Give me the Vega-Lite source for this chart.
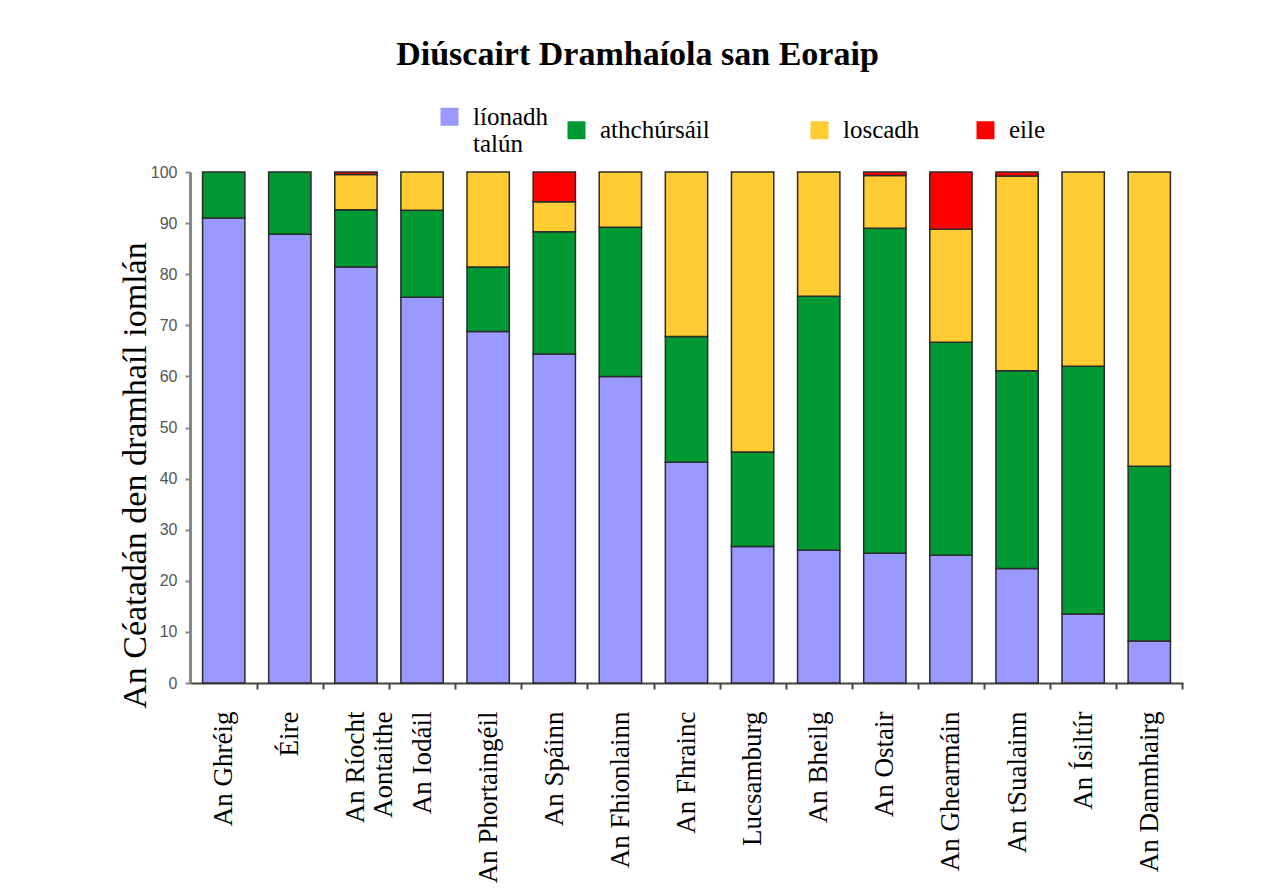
{
  "$schema": "https://vega.github.io/schema/vega-lite/v6.json",
  "autosize": {"type": "none"},
  "padding": {"left": 190, "top": 172, "right": 91, "bottom": 207},
  "width": 993,
  "height": 511,
  "background": "white",
  "title": {
    "text": "Diúscairt Dramhaíola san Eoraip",
    "font": "Liberation Serif",
    "fontSize": 34,
    "fontWeight": "bold",
    "color": "black",
    "anchor": "middle",
    "frame": "group",
    "dx": -49,
    "offset": 32
  },
  "data": {
    "values": [
      {"tir": "An Ghréig", "cat": "líonadh talún", "ord": 1, "v": 91.0},
      {"tir": "An Ghréig", "cat": "athchúrsáil", "ord": 2, "v": 9.0},
      {"tir": "Éire", "cat": "líonadh talún", "ord": 1, "v": 87.8},
      {"tir": "Éire", "cat": "athchúrsáil", "ord": 2, "v": 12.2},
      {"tir": "An Ríocht\nAontaithe", "cat": "líonadh talún", "ord": 1, "v": 81.4},
      {"tir": "An Ríocht\nAontaithe", "cat": "athchúrsáil", "ord": 2, "v": 11.2},
      {"tir": "An Ríocht\nAontaithe", "cat": "loscadh", "ord": 3, "v": 6.9},
      {"tir": "An Ríocht\nAontaithe", "cat": "eile", "ord": 4, "v": 0.5},
      {"tir": "An Iodáil", "cat": "líonadh talún", "ord": 1, "v": 75.5},
      {"tir": "An Iodáil", "cat": "athchúrsáil", "ord": 2, "v": 17.0},
      {"tir": "An Iodáil", "cat": "loscadh", "ord": 3, "v": 7.5},
      {"tir": "An Phortaingéil", "cat": "líonadh talún", "ord": 1, "v": 68.8},
      {"tir": "An Phortaingéil", "cat": "athchúrsáil", "ord": 2, "v": 12.6},
      {"tir": "An Phortaingéil", "cat": "loscadh", "ord": 3, "v": 18.6},
      {"tir": "An Spáinn", "cat": "líonadh talún", "ord": 1, "v": 64.4},
      {"tir": "An Spáinn", "cat": "athchúrsáil", "ord": 2, "v": 23.9},
      {"tir": "An Spáinn", "cat": "loscadh", "ord": 3, "v": 5.9},
      {"tir": "An Spáinn", "cat": "eile", "ord": 4, "v": 5.8},
      {"tir": "An Fhionlainn", "cat": "líonadh talún", "ord": 1, "v": 60.0},
      {"tir": "An Fhionlainn", "cat": "athchúrsáil", "ord": 2, "v": 29.2},
      {"tir": "An Fhionlainn", "cat": "loscadh", "ord": 3, "v": 10.8},
      {"tir": "An Fhrainc", "cat": "líonadh talún", "ord": 1, "v": 43.2},
      {"tir": "An Fhrainc", "cat": "athchúrsáil", "ord": 2, "v": 24.6},
      {"tir": "An Fhrainc", "cat": "loscadh", "ord": 3, "v": 32.2},
      {"tir": "Lucsamburg", "cat": "líonadh talún", "ord": 1, "v": 26.7},
      {"tir": "Lucsamburg", "cat": "athchúrsáil", "ord": 2, "v": 18.5},
      {"tir": "Lucsamburg", "cat": "loscadh", "ord": 3, "v": 54.8},
      {"tir": "An Bheilg", "cat": "líonadh talún", "ord": 1, "v": 26.0},
      {"tir": "An Bheilg", "cat": "athchúrsáil", "ord": 2, "v": 49.7},
      {"tir": "An Bheilg", "cat": "loscadh", "ord": 3, "v": 24.3},
      {"tir": "An Ostair", "cat": "líonadh talún", "ord": 1, "v": 25.4},
      {"tir": "An Ostair", "cat": "athchúrsáil", "ord": 2, "v": 63.6},
      {"tir": "An Ostair", "cat": "loscadh", "ord": 3, "v": 10.3},
      {"tir": "An Ostair", "cat": "eile", "ord": 4, "v": 0.7},
      {"tir": "An Ghearmáin", "cat": "líonadh talún", "ord": 1, "v": 25.0},
      {"tir": "An Ghearmáin", "cat": "athchúrsáil", "ord": 2, "v": 41.7},
      {"tir": "An Ghearmáin", "cat": "loscadh", "ord": 3, "v": 22.1},
      {"tir": "An Ghearmáin", "cat": "eile", "ord": 4, "v": 11.2},
      {"tir": "An tSualainn", "cat": "líonadh talún", "ord": 1, "v": 22.4},
      {"tir": "An tSualainn", "cat": "athchúrsáil", "ord": 2, "v": 38.7},
      {"tir": "An tSualainn", "cat": "loscadh", "ord": 3, "v": 38.1},
      {"tir": "An tSualainn", "cat": "eile", "ord": 4, "v": 0.8},
      {"tir": "An Ísiltír", "cat": "líonadh talún", "ord": 1, "v": 13.5},
      {"tir": "An Ísiltír", "cat": "athchúrsáil", "ord": 2, "v": 48.5},
      {"tir": "An Ísiltír", "cat": "loscadh", "ord": 3, "v": 38.0},
      {"tir": "An Danmhairg", "cat": "líonadh talún", "ord": 1, "v": 8.2},
      {"tir": "An Danmhairg", "cat": "athchúrsáil", "ord": 2, "v": 34.2},
      {"tir": "An Danmhairg", "cat": "loscadh", "ord": 3, "v": 57.6}
    ]
  },
  "mark": {"type": "bar", "stroke": "#2b2b2b", "strokeWidth": 1.5},
  "encoding": {
    "x": {
      "field": "tir",
      "type": "nominal",
      "sort": null,
      "scale": {"paddingInner": 0.36, "paddingOuter": 0.19},
      "axis": {
        "title": null,
        "labelExpr": "split(datum.label, '\\n')",
        "labelAngle": -90,
        "labelAlign": "right",
        "labelBaseline": "middle",
        "labelFont": "Liberation Serif",
        "labelFontSize": 27,
        "labelLineHeight": 28,
        "labelColor": "black",
        "labelLimit": 400,
        "labelPadding": 22,
        "bandPosition": 1,
        "tickOffset": 12,
        "labelOffset": -12,
        "tickSize": 6,
        "tickWidth": 2,
        "tickColor": "#444",
        "domainColor": "#444",
        "domainWidth": 2,
        "grid": false
      }
    },
    "y": {
      "field": "v",
      "type": "quantitative",
      "stack": "zero",
      "scale": {"domain": [0, 100], "nice": false},
      "axis": {
        "title": "An Céatadán den dramhaíl iomlán",
        "titleFont": "Liberation Serif",
        "titleFontSize": 34,
        "titleFontWeight": "normal",
        "titleColor": "black",
        "titleAngle": -90,
        "titleX": -45,
        "titleY": 303,
        "titleAlign": "center",
        "titleBaseline": "alphabetic",
        "values": [0, 10, 20, 30, 40, 50, 60, 70, 80, 90, 100],
        "labelFont": "Liberation Sans",
        "labelFontSize": 16,
        "labelColor": "#555",
        "labelPadding": 8,
        "tickSize": 5,
        "tickWidth": 2,
        "tickColor": "#888",
        "domainColor": "#888",
        "domainWidth": 3,
        "grid": false
      }
    },
    "color": {
      "field": "cat",
      "type": "nominal",
      "scale": {
        "domain": ["líonadh talún", "athchúrsáil", "loscadh", "eile"],
        "range": ["#9999FF", "#009933", "#FFCC33", "#FF0000"]
      },
      "legend": {
        "title": null,
        "orient": "none",
        "legendX": 247,
        "legendY": -68,
        "direction": "horizontal",
        "columns": 4,
        "padding": 0,
        "columnPadding": 16,
        "symbolType": "square",
        "symbolSize": 324,
        "symbolStrokeWidth": 0,
        "labelFont": "Liberation Serif",
        "labelFontSize": 25,
        "labelLineHeight": 25,
        "labelColor": "black",
        "labelOffset": 11,
        "labelLimit": 400,
        "labelExpr": "datum.label == 'líonadh talún' ? ['líonadh', 'talún'] : datum.label == 'athchúrsáil' ? 'athchúrsáil\u00a0\u00a0\u00a0\u00a0\u00a0\u00a0\u00a0\u00a0\u00a0\u00a0\u00a0\u00a0\u00a0\u200b' : datum.label == 'loscadh' ? 'loscadh\u00a0\u00a0\u00a0\u00a0\u00a0\u00a0\u200b' : datum.label"
      }
    },
    "order": {"field": "ord", "type": "quantitative"}
  },
  "config": {
    "view": {"stroke": null}
  }
}
